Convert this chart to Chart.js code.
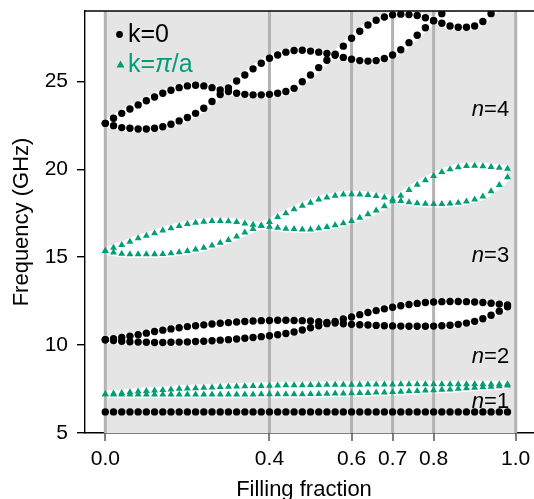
<!DOCTYPE html>
<html>
<head>
<meta charset="utf-8">
<script src="https://cdn.jsdelivr.net/npm/chart.js@4.4.1/dist/chart.umd.min.js"></script>
<style>
html,body{margin:0;padding:0;background:#fff;}
#wrap{width:534px;height:499px;position:relative;}
</style>
</head>
<body>
<div id="wrap"><canvas id="c" width="534" height="499"></canvas></div>
<script>
// ---------------- data ----------------
const fillingFraction = [0.00,0.02,0.04,0.06,0.08,0.10,0.12,0.14,0.16,0.18,0.20,0.22,0.24,0.26,0.28,0.30,0.32,0.34,0.36,0.38,0.40,0.42,0.44,0.46,0.48,0.50,0.52,0.54,0.56,0.58,0.60,0.62,0.64,0.66,0.68,0.70,0.72,0.74,0.76,0.78,0.80,0.82,0.84,0.86,0.88,0.90,0.92,0.94,0.96,0.98];

// k = 0 (black circles)
const k0_n1_a = [6.2,6.2,6.2,6.2,6.2,6.2,6.2,6.2,6.2,6.2,6.2,6.2,6.2,6.2,6.2,6.2,6.2,6.2,6.2,6.2,6.2,6.2,6.2,6.2,6.2,6.2,6.2,6.2,6.2,6.2,6.2,6.2,6.2,6.2,6.2,6.2,6.2,6.2,6.2,6.2,6.2,6.2,6.2,6.2,6.2,6.2,6.2,6.2,6.2,6.2];
const k0_n2_a = [10.3,10.36,10.43,10.51,10.59,10.68,10.77,10.85,10.92,10.99,11.05,11.1,11.15,11.2,11.24,11.28,11.31,11.34,11.37,11.39,11.4,11.41,11.41,11.4,11.39,11.37,11.33,11.29,11.25,11.21,11.18,11.16,11.14,11.12,11.1,11.09,11.08,11.07,11.07,11.07,11.08,11.1,11.13,11.18,11.25,11.35,11.5,11.7,11.93,12.18];
const k0_n2_b = [10.3,10.26,10.22,10.19,10.17,10.16,10.15,10.15,10.16,10.17,10.18,10.2,10.22,10.25,10.28,10.31,10.35,10.39,10.43,10.48,10.53,10.59,10.66,10.74,10.86,10.99,11.1,11.22,11.35,11.48,11.6,11.73,11.85,11.96,12.06,12.15,12.24,12.31,12.37,12.42,12.45,12.47,12.48,12.48,12.47,12.45,12.42,12.38,12.33,12.28];
const k0_n4_a = [22.61,22.9,23.18,23.43,23.66,23.9,24.11,24.32,24.49,24.64,24.74,24.78,24.74,24.64,24.51,24.42,24.32,24.26,24.23,24.23,24.26,24.32,24.42,24.6,24.98,25.36,25.78,26.2,26.55,27.0,27.45,27.85,28.2,28.47,28.66,28.78,28.82,28.8,28.74,28.62,28.45,28.3,28.15,28.08,28.08,28.15,28.4,28.85,29.3,29.8];
const k0_n4_b = [22.61,22.48,22.37,22.33,22.29,22.29,22.33,22.42,22.56,22.75,22.94,23.18,23.47,23.85,24.25,24.62,25.02,25.36,25.71,26.03,26.31,26.5,26.66,26.75,26.77,26.72,26.66,26.58,26.48,26.36,26.26,26.18,26.15,26.18,26.3,26.5,26.8,27.2,27.62,28.05,28.45,28.85,29.2,29.55,29.9,30.2,30.5,30.8,31.0,31.2];

// k = pi/a (green triangles)
const kpi_n1_a = [7.2,7.24,7.28,7.32,7.36,7.39,7.42,7.45,7.48,7.51,7.53,7.55,7.57,7.59,7.61,7.63,7.64,7.66,7.67,7.68,7.69,7.7,7.71,7.72,7.72,7.73,7.73,7.74,7.74,7.75,7.75,7.75,7.76,7.76,7.76,7.76,7.77,7.77,7.77,7.77,7.77,7.77,7.77,7.77,7.77,7.77,7.77,7.77,7.77,7.77];
const kpi_n1_b = [7.2,7.19,7.19,7.19,7.19,7.19,7.19,7.19,7.19,7.19,7.19,7.19,7.19,7.19,7.19,7.19,7.19,7.19,7.19,7.2,7.2,7.2,7.2,7.21,7.21,7.22,7.22,7.23,7.24,7.25,7.26,7.27,7.28,7.3,7.31,7.33,7.35,7.37,7.39,7.41,7.43,7.46,7.48,7.51,7.54,7.57,7.6,7.63,7.66,7.7];
const kpi_n3_a = [15.35,15.53,15.69,15.88,16.07,16.22,16.36,16.51,16.65,16.77,16.88,16.96,17.02,17.06,17.06,17.04,17.0,16.92,16.85,16.79,16.73,16.68,16.62,16.6,16.58,16.58,16.64,16.72,16.82,16.93,17.06,17.24,17.44,17.66,17.9,18.18,18.5,18.82,19.12,19.38,19.62,19.84,20.0,20.12,20.18,20.2,20.17,20.13,20.08,20.03];
const kpi_n3_b = [15.35,15.26,15.2,15.17,15.16,15.16,15.16,15.18,15.22,15.28,15.35,15.43,15.53,15.67,15.82,15.98,16.17,16.4,16.6,16.79,17.0,17.28,17.5,17.72,17.93,18.1,18.28,18.4,18.5,18.56,18.58,18.57,18.54,18.48,18.4,18.3,18.2,18.12,18.07,18.04,18.03,18.03,18.05,18.1,18.17,18.28,18.45,18.75,19.1,19.55];

// axes
const xTickValues = [0.0, 0.4, 0.6, 0.7, 0.8, 1.0];
const xTickLabels = ['0.0', '0.4', '0.6', '0.7', '0.8', '1.0'];
const yTickValues = [5, 10, 15, 20, 25];
const yTickLabels = ['5', '10', '15', '20', '25'];
const xAxisTitle = 'Filling fraction';
const yAxisTitle = 'Frequency (GHz)';
const shadedRange = [0.0, 1.0];
const legendLabels = ['k=0', 'k=', 'π', '/a'];
const bandLabels = ['1', '2', '3', '4'];
const bandLabelFreq = [6.88, 9.44, 15.18, 23.46];

// ---------------- styling ----------------
const FONT = '"Liberation Sans", Arial, Helvetica, sans-serif';
const BLACK = '#000000';
const GREEN = '#009E73';
const SHADE = '#e5e5e5';
const VLINE = '#b3b3b3';
const X_MIN = -0.0495, X_MAX = 1.0446, Y_MIN = 5, Y_MAX = 29;

function pts(ys) { return fillingFraction.map((x, i) => ({ x: x, y: ys[i] })); }

const datasets = [];
// shaded background
datasets.push({
  data: shadedRange.map(x => ({ x: x, y: Y_MAX })),
  showLine: true, borderColor: 'rgba(0,0,0,0)', borderWidth: 1, pointRadius: 0,
  fill: 'start', backgroundColor: SHADE, order: 100, clip: 0
});
// white band regions (pairs)
[[k0_n2_a, k0_n2_b], [k0_n4_a, k0_n4_b], [kpi_n1_a, kpi_n1_b], [kpi_n3_a, kpi_n3_b]].forEach(p => {
  datasets.push({ data: pts(p[0]), showLine: true, borderColor: '#ffffff', borderWidth: 7,
    pointRadius: 0, fill: '+1', backgroundColor: '#ffffff', order: 50, clip: 0 });
  datasets.push({ data: pts(p[1]), showLine: true, borderColor: '#ffffff', borderWidth: 7,
    pointRadius: 0, fill: false, order: 50, clip: 0 });
});
// vertical reference lines at the tick positions
xTickValues.forEach(v => {
  datasets.push({ data: [{ x: v, y: Y_MIN }, { x: v, y: Y_MAX }], showLine: true,
    borderColor: VLINE, borderWidth: 3, pointRadius: 0, fill: false, order: 40, clip: 0 });
});
// markers
[kpi_n1_a, kpi_n1_b, kpi_n3_a, kpi_n3_b].forEach(s => {
  datasets.push({ data: pts(s), showLine: false, pointStyle: 'triangle', pointRadius: 4,
    pointBackgroundColor: GREEN, pointBorderWidth: 0, pointBorderColor: GREEN, order: 10, clip: 0 });
});
[k0_n1_a, k0_n2_a, k0_n2_b, k0_n4_a, k0_n4_b].forEach(s => {
  datasets.push({ data: pts(s), showLine: false, pointStyle: 'circle', pointRadius: 3.7,
    pointBackgroundColor: BLACK, pointBorderWidth: 0, pointBorderColor: BLACK, order: 10, clip: 0 });
});

const overlay = {
  id: 'overlay',
  afterDraw(chart) {
    const { ctx, chartArea: a, scales: { x, y } } = chart;
    ctx.save();
    // top frame line
    ctx.strokeStyle = '#000'; ctx.lineWidth = 1.4;
    ctx.beginPath(); ctx.moveTo(a.left, a.top); ctx.lineTo(a.right, a.top); ctx.stroke();

    // x axis title
    ctx.fillStyle = '#000'; ctx.textAlign = 'center'; ctx.textBaseline = 'alphabetic';
    ctx.font = '22px ' + FONT;
    ctx.fillText(xAxisTitle, 304, 495.5);

    // legend
    ctx.textAlign = 'left';
    ctx.fillStyle = BLACK;
    ctx.beginPath(); ctx.arc(119.5, 34.5, 3.4, 0, Math.PI * 2); ctx.fill();
    ctx.font = '25px ' + FONT;
    ctx.fillText(legendLabels[0], 128, 42);
    ctx.fillStyle = GREEN;
    ctx.beginPath();
    ctx.moveTo(120.5, 60.5); ctx.lineTo(124.5, 67.5); ctx.lineTo(116.5, 67.5); ctx.closePath(); ctx.fill();
    let tx = 128;
    ctx.font = '25px ' + FONT; ctx.fillText(legendLabels[1], tx, 72); tx += ctx.measureText(legendLabels[1]).width;
    ctx.font = 'italic 25px ' + FONT; ctx.fillText(legendLabels[2], tx, 72); tx += ctx.measureText(legendLabels[2]).width;
    ctx.font = '25px ' + FONT; ctx.fillText(legendLabels[3], tx, 72);

    // band labels
    ctx.fillStyle = '#000';
    const xr = x.getPixelForValue(0.984);
    bandLabels.forEach((n, i) => {
      const yb = y.getPixelForValue(bandLabelFreq[i]) + 7.9;
      ctx.font = '22px ' + FONT;
      const rest = '=' + n;
      const w = ctx.measureText(rest).width;
      ctx.textAlign = 'left';
      ctx.fillText(rest, xr - w, yb);
      ctx.font = 'italic 22px ' + FONT;
      const wn = ctx.measureText('n').width;
      ctx.fillText('n', xr - w - wn, yb);
    });
    ctx.restore();
  }
};

new Chart(document.getElementById('c'), {
  type: 'scatter',
  data: { datasets: datasets },
  options: {
    responsive: false, animation: false, devicePixelRatio: 1, events: [],
    layout: { autoPadding: false, padding: { top: 11, right: 0, left: 0, bottom: 0 } },
    plugins: { legend: { display: false }, tooltip: { enabled: false } },
    scales: {
      x: {
        type: 'linear', position: 'bottom', min: X_MIN, max: X_MAX,
        afterBuildTicks: s => { s.ticks = xTickValues.map(v => ({ value: v })); },
        afterFit: s => { s.height = 66; s.paddingLeft = 0; s.paddingRight = 0; s.paddingTop = 0; s.paddingBottom = 0; },
        ticks: { autoSkip: false, maxRotation: 0, padding: 6, color: '#000',
          font: { family: FONT, size: 21 },
          callback: v => xTickLabels[xTickValues.indexOf(v)] },
        grid: { drawOnChartArea: false, drawTicks: true, tickLength: 8, color: '#7f7f7f', lineWidth: 2 },
        border: { display: true, color: '#000', width: 1.4 },
        title: { display: false, text: xAxisTitle }
      },
      y: {
        type: 'linear', position: 'left', min: Y_MIN, max: Y_MAX,
        afterBuildTicks: s => { s.ticks = yTickValues.map(v => ({ value: v })); },
        afterFit: s => { s.width = 85; s.paddingLeft = 0; s.paddingRight = 0; s.paddingTop = 0; s.paddingBottom = 0; },
        ticks: { padding: 9, color: '#000', font: { family: FONT, size: 21 },
          callback: v => yTickLabels[yTickValues.indexOf(v)] },
        grid: { drawOnChartArea: false, drawTicks: true, tickLength: 8, color: '#000', lineWidth: 1.4 },
        border: { display: true, color: '#000', width: 1.4 },
        title: { display: true, text: yAxisTitle, color: '#000',
          font: { family: FONT, size: 22, lineHeight: 1.2 }, padding: { top: 9, bottom: 0 } }
      }
    }
  },
  plugins: [overlay]
});
</script>
</body>
</html>
